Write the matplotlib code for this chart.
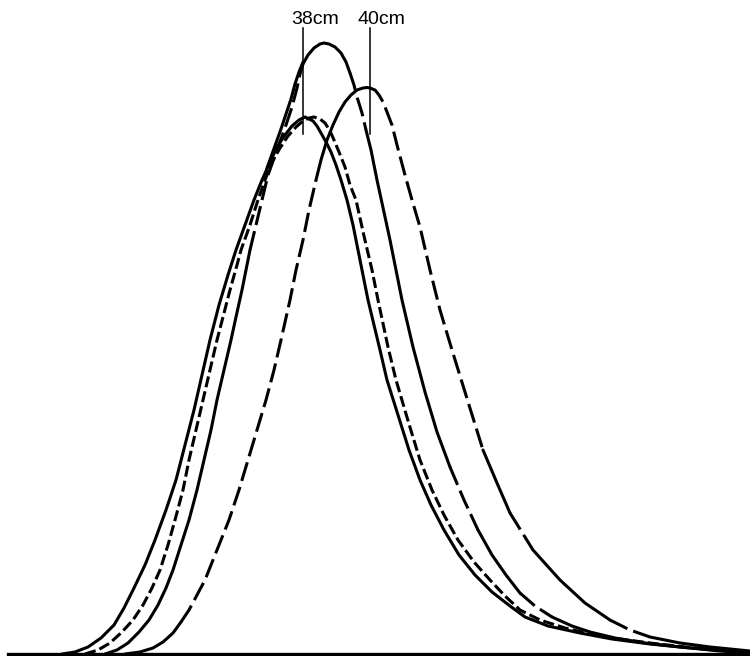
import matplotlib.pyplot as plt

plt.rcParams['lines.scale_dashes'] = False

# curve traces (image units, y grows downward)
A_x = [62, 75, 88, 101, 114, 124, 134, 145, 155, 166, 176, 185, 194, 202, 210, 219, 228, 236, 245, 254,
       262, 270, 277, 285, 292, 299, 305, 313, 317, 321, 326, 331, 336, 341, 347, 353, 358, 363, 368, 374,
       380, 387, 398, 409, 420, 431, 444, 459, 475, 492, 510, 525, 548, 580, 612, 650, 690, 720, 750]
A_y = [654, 652, 647, 638, 625, 608, 588, 565, 540, 510, 480, 445, 410, 375, 340, 305, 275, 250, 225, 200,
       180, 162, 147, 135, 126, 120, 117, 121, 126, 133, 142, 152, 165, 180, 200, 225, 250, 275, 300, 325,
       350, 380, 415, 450, 480, 505, 530, 555, 575, 592, 606, 617, 626, 633, 639, 644, 648, 651, 653]

B_x = [85, 98, 110, 122, 133, 143, 152, 160, 168, 175, 183, 189, 196, 203, 210, 217, 223, 230, 237, 241,
       250, 258, 265, 272, 280, 288, 296, 303, 309, 314, 320, 325, 330, 334, 339, 345, 350, 356, 364, 372,
       378, 388, 396, 409, 420, 432, 444, 458, 474, 490, 505, 520, 540, 565, 590, 620, 650, 685, 720, 750]
B_y = [654, 650, 643, 632, 620, 605, 588, 570, 545, 520, 490, 460, 430, 400, 370, 340, 317, 290, 265, 250,
       225, 200, 180, 162, 148, 136, 127, 121, 118, 117, 119, 123, 131, 140, 152, 167, 185, 200, 236, 270,
       300, 347, 380, 424, 460, 490, 515, 540, 562, 580, 596, 610, 620, 628, 634, 639, 643, 647, 650, 653]

C_x = [105, 117, 128, 139, 149, 158, 166, 173, 181, 189, 197, 204, 211, 217, 224, 231, 236, 242, 247, 250,
       256, 262, 268, 277, 285, 292, 297, 300, 303, 308, 314, 320, 324, 329, 335, 341, 346, 350, 354, 357,
       362, 366, 371, 377, 382, 390, 396, 402, 413, 425, 437, 450, 464, 478, 492, 506, 520, 535, 552, 572,
       590, 615, 645, 680, 715, 750]
C_y = [654, 650, 643, 632, 620, 605, 588, 570, 545, 520, 490, 460, 430, 400, 370, 340, 317, 290, 265, 250,
       225, 200, 175, 150, 128, 107, 88, 74, 64, 55, 48, 44, 43, 44, 47, 53, 62, 73, 85, 97,
       113, 130, 150, 180, 203, 240, 270, 300, 347, 392, 432, 467, 500, 530, 555, 575, 593, 606, 617, 626,
       632, 638, 643, 647, 650, 652]

# short solid strand on the upper left of the tall curve
T_x = [267, 271, 276, 281, 286, 291, 295, 299, 303]
T_y = [168, 157, 143, 129, 114, 99, 84, 72, 62]

D_x = [125, 140, 153, 163, 173, 181, 189, 197, 205, 213, 221, 229, 239, 248, 257, 266, 274, 281, 290, 296,
       303, 309, 316, 321, 327, 333, 339, 345, 351, 357, 363, 367, 370, 375, 379, 383, 387, 392, 397, 405,
       412, 420, 430, 440, 452, 469, 483, 497, 510, 533, 560, 585, 610, 630, 650, 680, 710, 750]
D_y = [654, 652, 648, 642, 633, 622, 610, 595, 580, 560, 540, 520, 490, 460, 430, 400, 370, 340, 300, 270,
       240, 210, 180, 160, 140, 125, 112, 102, 95, 90, 88, 87.5, 88, 90, 95, 102, 112, 125, 145, 175,
       200, 227, 270, 310, 350, 405, 450, 483, 513, 550, 580, 603, 620, 630, 637, 643, 647, 651]

labels = ['38cm', '40cm']
label_x = [291, 357]
marker_x = [303, 370]

# line style along each trace, by x range
solid = '-'
short = (0, (8, 3))
long_ = (0, (14, 4.5))
A_style = [(0, 750, solid)]
B_style = [(0, 750, short)]
C_style = [(105, 250, solid), (250, 303, long_), (303, 350, solid), (350, 366, long_), (366, 450, solid),
           (450, 478, long_), (478, 520, solid), (520, 552, long_), (552, 750, solid)]
T_style = [(0, 750, solid)]
D_style = [(125, 181, solid), (181, 316, long_), (316, 370, solid), (370, 483, long_), (483, 510, solid),
           (510, 533, long_), (533, 610, solid), (610, 650, long_), (650, 750, solid)]

fig = plt.figure(figsize=(7.5, 6.56), dpi=100)
ax = fig.add_axes([0, 0, 1, 1])
ax.set_xlim(0, 750)
ax.set_ylim(656, 0)
ax.axis('off')

for xs, ys, style in [(A_x, A_y, A_style), (B_x, B_y, B_style), (C_x, C_y, C_style),
                      (T_x, T_y, T_style), (D_x, D_y, D_style)]:
    for x0, x1, ls in style:
        idx = [i for i, x in enumerate(xs) if x0 <= x <= x1]
        ax.plot([xs[i] for i in idx], [ys[i] for i in idx], color='black', lw=2.2, ls=ls,
                solid_capstyle='round', solid_joinstyle='round', dash_capstyle='butt')

# baseline
ax.plot([8, 750], [654, 654], color='black', lw=2.4)

for lab, lx, mx in zip(labels, label_x, marker_x):
    ax.plot([mx, mx], [28, 134], color='black', lw=1.1)
    ax.text(lx, 24, lab, fontsize=14, family='Liberation Sans', ha='left', va='baseline')

fig.savefig('out.png', dpi=100)
